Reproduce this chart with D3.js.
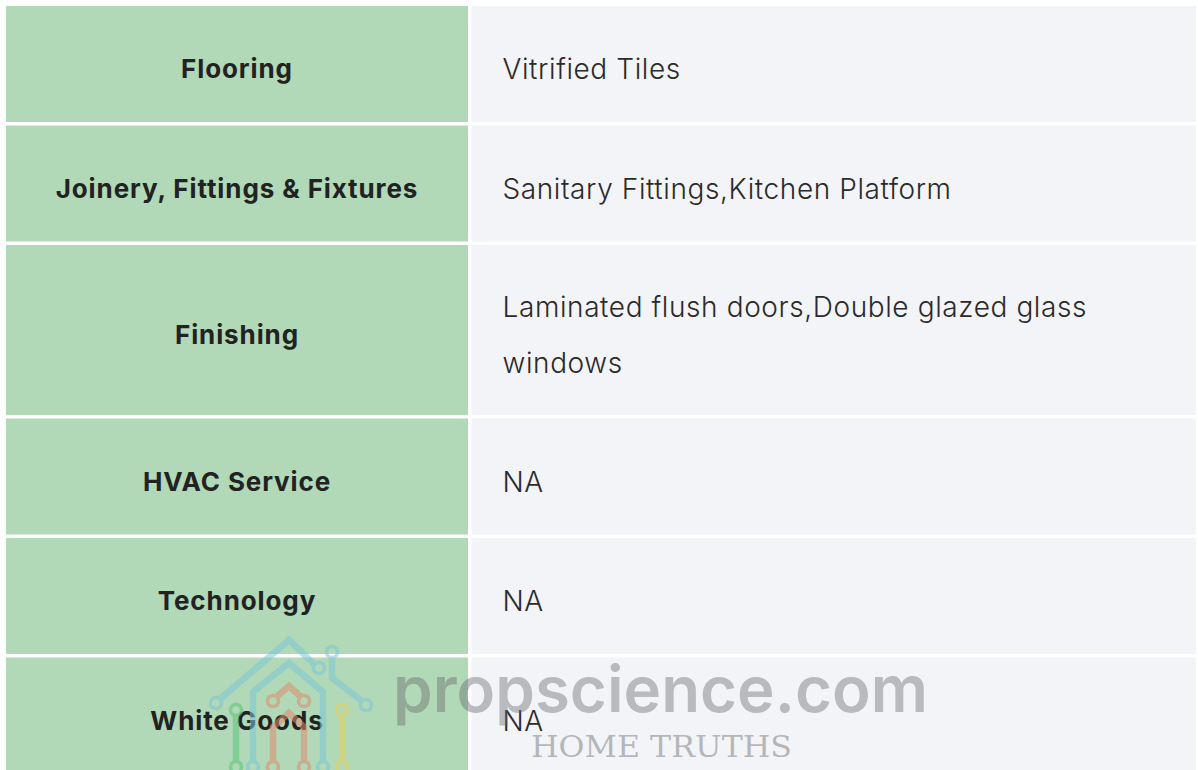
<!DOCTYPE html>
<html>
<head>
<meta charset="utf-8">
<script src="https://cdn.jsdelivr.net/npm/d3@7"></script>
<style>
  html, body { margin: 0; padding: 0; background: #ffffff; }
  svg { display: block; }
</style>
</head>
<body>
<div id="chart"></div>
<script>
// ---- data ----
const features = ["Flooring", "Joinery, Fittings & Fixtures", "Finishing", "HVAC Service", "Technology", "White Goods"];
const specs = ["Vitrified Tiles", "Sanitary Fittings,Kitchen Platform", "Laminated flush doors,Double glazed glass windows", "NA", "NA", "NA"];
const watermarkMain = "propscience.com";
const watermarkSub = "HOME TRUTHS";

// ---- layout ----
const W = 1198, H = 770;
const tableX = 6, tableY = 6, gap = 3.5;
const leftW = 462, rightW = W - 2 - tableX - leftW - gap;
const padX = 31, rowLine = 54, textLine = 56, baseOff = 14;
const wrapW = 640;
const valSize = 28, valSpacing = 0.6;
const labSize = 26, labSpacing = 0.9;

const svg = d3.select("#chart").append("svg").attr("width", W).attr("height", H);
svg.append("rect").attr("width", W).attr("height", H).attr("fill", "#ffffff");

const labelFont = "Inter, 'Open Sans', sans-serif";

// measure & wrap value text
const meas = svg.append("text").attr("font-family", labelFont).attr("font-size", valSize)
  .attr("font-weight", 300).attr("letter-spacing", valSpacing).attr("visibility", "hidden");
function wrap(str) {
  const words = str.split(" ");
  const lines = [];
  let cur = "";
  words.forEach(w => {
    const t = cur ? cur + " " + w : w;
    meas.text(t);
    if (meas.node().getComputedTextLength() > wrapW && cur) { lines.push(cur); cur = w; }
    else cur = t;
  });
  if (cur) lines.push(cur);
  return lines;
}
const rows = features.map((f, i) => ({ label: f, lines: wrap(specs[i]) }));
meas.remove();

let y = tableY;
rows.forEach(r => { r.h = 62 + rowLine * r.lines.length; r.y = y; y += r.h + gap; });

const g = svg.append("g");
const row = g.selectAll("g.row").data(rows).join("g").attr("class", "row");

row.append("rect").attr("x", tableX).attr("y", d => d.y).attr("width", leftW).attr("height", d => d.h).attr("fill", "#b1d8b7");
row.append("rect").attr("x", tableX + leftW + gap).attr("y", d => d.y).attr("width", rightW).attr("height", d => d.h).attr("fill", "#f3f4f8");

row.append("text")
  .attr("x", tableX + leftW / 2)
  .attr("y", d => d.y + d.h / 2 + baseOff)
  .attr("text-anchor", "middle")
  .attr("font-family", labelFont).attr("font-weight", 700).attr("font-size", labSize)
  .attr("letter-spacing", labSpacing)
  .attr("fill", "#222222")
  .text(d => d.label);

row.each(function(d) {
  const n = d.lines.length;
  d3.select(this).selectAll("text.val").data(d.lines).join("text").attr("class", "val")
    .attr("x", tableX + leftW + gap + padX)
    .attr("y", (l, i) => d.y + d.h / 2 + baseOff + 1 + (i - (n - 1) / 2) * textLine)
    .attr("font-family", labelFont).attr("font-weight", 300).attr("font-size", valSize)
    .attr("letter-spacing", valSpacing)
    .attr("fill", "#2a2a2a")
    .text(l => l);
});

// ---- watermark ----
const wm = svg.append("g").attr("pointer-events", "none");
const logo = wm.append("g").attr("opacity", 0.55).attr("fill", "none").attr("stroke-linejoin", "miter");
const line = d3.line();
function seg(pts, color) {
  logo.append("path").attr("d", line(pts)).attr("stroke", color).attr("stroke-width", 6.5);
}
function dot(x, yy, color) {
  logo.append("circle").attr("cx", x).attr("cy", yy).attr("r", 5.5).attr("stroke", color).attr("stroke-width", 3.5).attr("fill", "none");
}
const teal = "#7cc6d6", orange = "#e28a72", green = "#5cc47c", yellow = "#e8d25a";
// outer roof
seg([[219, 700], [289, 640], [314, 664]], teal); dot(216, 703, teal); dot(319, 668, teal);
seg([[332, 658], [332, 678], [362, 701]], teal); dot(332, 652, teal); dot(366, 705, teal);
// inner teal house
seg([[253, 762], [253, 692], [289, 663], [323, 692], [323, 762]], teal); dot(253, 767, teal); dot(323, 767, teal);
// orange chevron & arch
seg([[276, 697], [289, 686], [301, 697]], orange); dot(273, 701, orange); dot(304, 701, orange);
seg([[273, 762], [273, 727], [289, 713], [304, 727], [304, 762]], orange); dot(273, 767, orange); dot(304, 767, orange);
// green & yellow poles
seg([[236, 716], [236, 762]], green); dot(236, 710, green); dot(236, 767, green);
seg([[342, 716], [342, 762]], yellow); dot(342, 710, yellow); dot(342, 767, yellow);

wm.append("text").attr("x", 393).attr("y", 712)
  .attr("font-family", labelFont).attr("font-weight", 600).attr("font-size", 64)
  .attr("fill", "rgba(105,105,108,0.42)")
  .attr("textLength", 535).attr("lengthAdjust", "spacingAndGlyphs")
  .text(watermarkMain);
wm.append("text").attr("x", 531).attr("y", 757)
  .attr("font-family", "'DejaVu Serif', serif").attr("font-weight", 400).attr("font-size", 30)
  .attr("fill", "rgba(120,120,122,0.5)")
  .attr("textLength", 261).attr("lengthAdjust", "spacingAndGlyphs")
  .text(watermarkSub);
</script>
</body>
</html>
